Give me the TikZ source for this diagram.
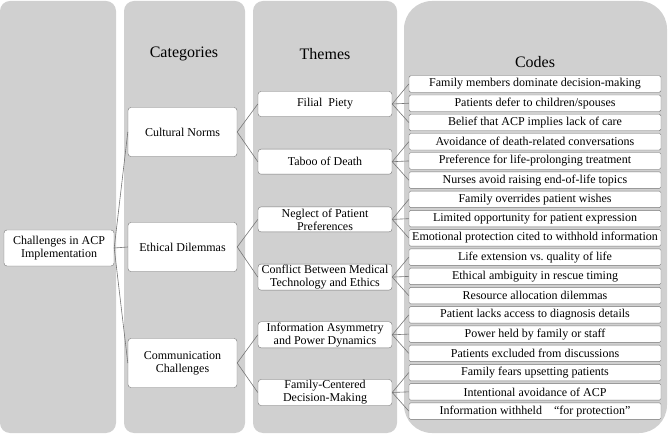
\documentclass[tikz,border=0pt]{standalone}
\usepackage{fontspec}
\setmainfont{Liberation Serif}
\usetikzlibrary{positioning}
\definecolor{panelgray}{RGB}{208,208,208}
\definecolor{edgegray}{RGB}{118,118,118}

\begin{document}
\begin{tikzpicture}[x=1pt, y=-1pt,
  panel/.style={fill=panelgray, rounded corners=10pt},
  header/.style={font=\fontsize{16}{18}\selectfont},
  catbox/.style={draw=edgegray, fill=white, rounded corners=3pt, align=center,
    minimum width=109pt, minimum height=49pt, inner sep=1pt, font=\fontsize{12}{13}\selectfont},
  rootbox/.style={catbox, minimum width=110pt, minimum height=36pt},
  themebox/.style={catbox, minimum width=134pt, minimum height=25pt},
  codebox/.style={catbox, rounded corners=1.5pt, minimum width=252pt, minimum height=16.5pt, inner sep=0pt},
  link/.style={draw=edgegray, line width=0.6pt}]
  \useasboundingbox (0,0) rectangle (669,435);
  \fill[white] (0,0) rectangle (669,435);

  % columns
  \fill[panel] (0,1) rectangle (116,433);
  \fill[panel] (124,1) rectangle (245,433);
  \fill[panel] (253,1) rectangle (397,433);
  \fill[panel, rounded corners=28pt] (404,1) rectangle (667,433);

  % headers
  \node[header] (hcat) at (184,54) {Categories};
  \node[header] (htheme) at (325,54) {Themes};
  \node[header] (hcode) at (535,62) {Codes};

  % root and categories
  \node[rootbox] (root) at (59,248) {Challenges in ACP\\Implementation};
  \node[catbox] (k1) at (182.5,132) {Cultural Norms};
  \node[catbox] (k2) at (182.5,247) {Ethical Dilemmas};
  \node[catbox] (k3) at (182.5,363) {Communication\\Challenges};

  % themes
  \foreach \txt [count=\i] in {Filial\enspace Piety, Taboo of Death,
      {Neglect of Patient\\Preferences}, {Conflict Between Medical\\Technology and Ethics},
      {Information Asymmetry\\and Power Dynamics}, {Family-Centered\\Decision-Making}}
    \node[themebox] (t\i) at (325,{104+57.7*(\i-1)}) {\txt};

  % codes
  \foreach \txt [count=\i] in {Family members dominate decision-making,
      Patients defer to children/spouses, Belief that ACP implies lack of care,
      Avoidance of death-related conversations, Preference for life-prolonging treatment,
      Nurses avoid raising end-of-life topics, Family overrides patient wishes,
      Limited opportunity for patient expression, Emotional protection cited to withhold information,
      Life extension vs.\ quality of life, Ethical ambiguity in rescue timing,
      Resource allocation dilemmas, Patient lacks access to diagnosis details,
      Power held by family or staff, Patients excluded from discussions,
      Family fears upsetting patients, Intentional avoidance of ACP,
      Information withheld\quad``for protection''}
    \node[codebox] (c\i) at (535,{84+19.24*(\i-1)}) {\txt};

  % connectors
  \foreach \k in {1,2,3}
    \draw[link] (root.east) -- (k\k.west);
  \foreach \k in {1,2,3} {
    \pgfmathtruncatemacro\ta{2*\k-1}
    \pgfmathtruncatemacro\tb{2*\k}
    \draw[link] (k\k.east) -- (t\ta.west);
    \draw[link] (k\k.east) -- (t\tb.west);
  }
  \foreach \t in {1,...,6}
    \foreach \j in {1,2,3} {
      \pgfmathtruncatemacro\c{3*(\t-1)+\j}
      \draw[link] (t\t.east) -- (c\c.west);
    }
\end{tikzpicture}
\end{document}
